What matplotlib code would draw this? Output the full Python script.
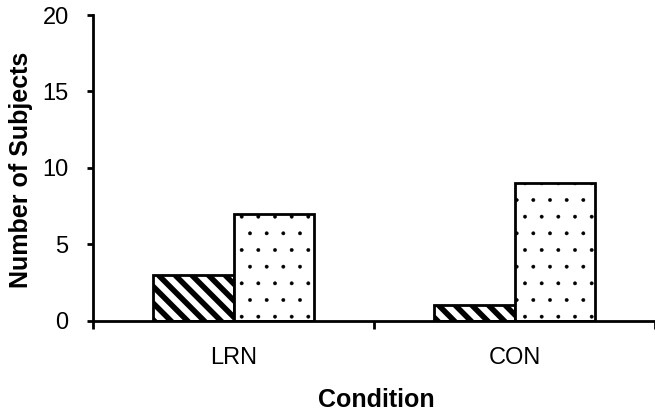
import matplotlib
matplotlib.use("Agg")
import matplotlib.pyplot as plt
import numpy as np

# Chart data
conditions = ["LRN", "CON"]
striped_counts = [3, 1]
dotted_counts = [7, 9]
y_ticks = [0, 5, 10, 15, 20]

plt.rcParams['font.family'] = ['Liberation Sans', 'DejaVu Sans']
plt.rcParams['font.size'] = 17

fig = plt.figure(figsize=(6.55, 4.2), dpi=100)
ax = fig.add_axes([93 / 655, 1 - 320.5 / 420, 1 - 93 / 655, 305.5 / 420])

x = np.arange(len(conditions))
width = 0.287

striped = ax.bar(x - width / 2, striped_counts, width, color='white',
                 edgecolor='black', linewidth=2, hatch='\\\\')
dotted = ax.bar(x + width / 2, dotted_counts, width, color='white',
                edgecolor='black', linewidth=2, hatch='.')

# Thick stripes, fine dots
for b in striped:
    if hasattr(b, 'set_hatch_linewidth'):
        b.set_hatch_linewidth(4.0)
for b in dotted:
    if hasattr(b, 'set_hatch_linewidth'):
        b.set_hatch_linewidth(0.3)

ax.set_ylim(0, 20)
ax.set_xlim(-0.5, -0.5 + 562 / 284)
ax.set_yticks(y_ticks)

ax.set_xticks(x)
ax.set_xticklabels(conditions)
ax.set_xticks([-0.5, 0.5, 1.5], minor=True)
ax.tick_params(axis='x', which='major', length=0, pad=19)
ax.tick_params(axis='x', which='minor', length=6, width=2, direction='out')
ax.tick_params(axis='y', length=4.5, width=2, direction='out', pad=13)

for side in ['top', 'right']:
    ax.spines[side].set_visible(False)
for side in ['left', 'bottom']:
    ax.spines[side].set_linewidth(2)

ax.set_ylabel('Number of Subjects', fontweight='bold', fontsize=18)
ax.set_xlabel('Condition', fontweight='bold', fontsize=18)
ax.yaxis.set_label_coords((33 - 93) / 562, 0.4926)
ax.xaxis.set_label_coords(0.5036, (320.5 - 388) / 305.5)
ax.xaxis.label.set_va('top')

fig.savefig('out.png', dpi=100)
